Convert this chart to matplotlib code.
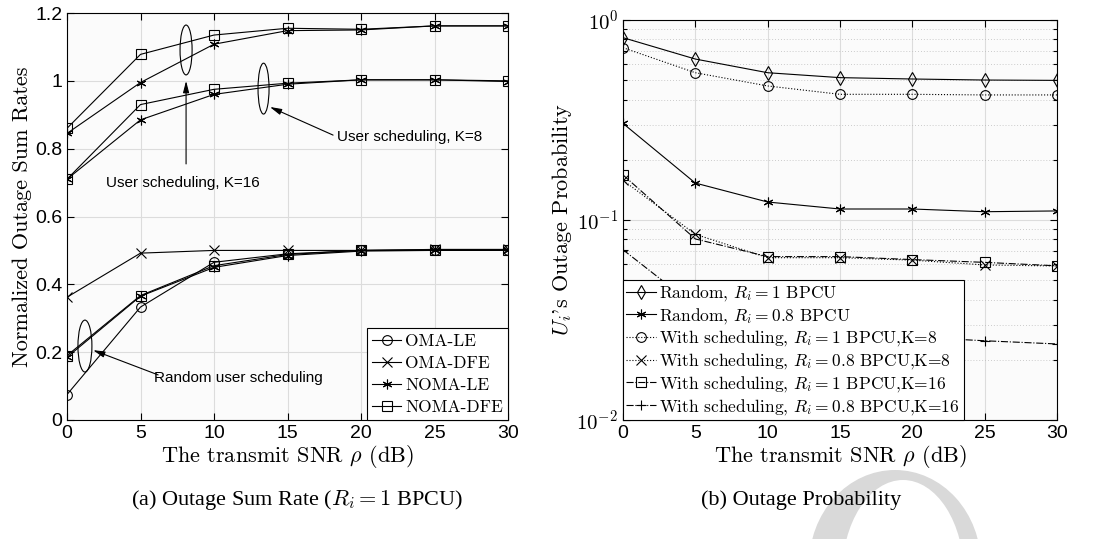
import matplotlib
matplotlib.use("Agg")
import matplotlib.pyplot as plt
from matplotlib.patches import Ellipse
from matplotlib.ticker import FuncFormatter, LogLocator, NullFormatter
import numpy as np

plt.rcParams['mathtext.fontset'] = 'cm'

# ---------------- data ----------------
snr = [0, 5, 10, 15, 20, 25, 30]

# (a) outage sum rate, random user scheduling
oma_le_rand = [0.075, 0.333, 0.465, 0.490, 0.500, 0.500, 0.500]
oma_dfe_rand = [0.362, 0.492, 0.500, 0.500, 0.500, 0.503, 0.503]
noma_le_rand = [0.185, 0.365, 0.450, 0.485, 0.498, 0.500, 0.500]
noma_dfe_rand = [0.190, 0.367, 0.455, 0.488, 0.500, 0.502, 0.502]
# user scheduling K=8
noma_le_k8 = [0.710, 0.885, 0.960, 0.990, 1.003, 1.003, 0.998]
noma_dfe_k8 = [0.710, 0.930, 0.975, 0.993, 1.003, 1.003, 1.000]
# user scheduling K=16
noma_le_k16 = [0.845, 0.995, 1.108, 1.148, 1.150, 1.162, 1.162]
noma_dfe_k16 = [0.860, 1.078, 1.135, 1.155, 1.152, 1.162, 1.162]

legend_a = ['OMA-LE', 'OMA-DFE', 'NOMA-LE', 'NOMA-DFE']

# (b) outage probability
rand_r1 = [0.816, 0.638, 0.545, 0.515, 0.507, 0.501, 0.499]
rand_r08 = [0.304, 0.153, 0.123, 0.1135, 0.1135, 0.110, 0.111]
sch_r1_k8 = [0.727, 0.545, 0.468, 0.425, 0.425, 0.422, 0.422]
sch_r08_k8 = [0.158, 0.0848, 0.0648, 0.0648, 0.0630, 0.0596, 0.0589]
sch_r1_k16 = [0.168, 0.0804, 0.0656, 0.0656, 0.0634, 0.0614, 0.0590]
sch_r08_k16 = [0.0710, 0.037, 0.030, 0.027, 0.026, 0.0249, 0.0240]

legend_b = [r'Random, $R_i = 1$ BPCU',
            r'Random, $R_i = 0.8$ BPCU',
            r'With scheduling, $R_i = 1$ BPCU,K=8',
            r'With scheduling, $R_i = 0.8$ BPCU,K=8',
            r'With scheduling, $R_i = 1$ BPCU,K=16',
            r'With scheduling, $R_i = 0.8$ BPCU,K=16']

# ---------------- figure ----------------
W, H = 1099, 539
fig = plt.figure(figsize=(W / 100, H / 100), dpi=100)

SERIF = 'cmr10'
SANS = 'Liberation Sans'
bg = '#fbfbfb'

# watermark ring (decorative, bottom right) -- display coords, origin bottom-left
outer = Ellipse((895, -26), 172, 190, transform=None, facecolor='#d9d9d9', edgecolor='none', zorder=0)
inner = Ellipse((903, -36), 122, 190, transform=None, facecolor='white', edgecolor='none', zorder=0)
fig.patches.extend([outer, inner])

axa = fig.add_axes([67 / W, 1 - 420 / H, 441 / W, 407 / H])
axb = fig.add_axes([623 / W, 1 - 420 / H, 434 / W, 400 / H])

mk = dict(markersize=7, markerfacecolor='none', markeredgecolor='k', markeredgewidth=0.8)
lw = 0.8

# ---- (a) ----
axa.set_facecolor(bg)
axa.plot(snr, oma_le_rand, '-', color='k', lw=lw, marker='o', label=legend_a[0], **mk)
axa.plot(snr, oma_dfe_rand, '-', color='k', lw=lw, marker='x', label=legend_a[1], **mk)
axa.plot(snr, noma_le_rand, '-', color='k', lw=lw, marker=(6, 2, 0), label=legend_a[2], **mk)
axa.plot(snr, noma_dfe_rand, '-', color='k', lw=lw, marker='s', label=legend_a[3], **mk)
for data, m in [(noma_le_k8, (6, 2, 0)), (noma_dfe_k8, 's'), (noma_le_k16, (6, 2, 0)), (noma_dfe_k16, 's')]:
    axa.plot(snr, data, '-', color='k', lw=lw, marker=m, **mk)

axa.set_xlim(0, 30)
axa.set_ylim(0, 1.2)
axa.set_xticks(snr)
axa.set_yticks([0, 0.2, 0.4, 0.6, 0.8, 1.0, 1.2])
axa.set_yticklabels(['0', '0.2', '0.4', '0.6', '0.8', '1', '1.2'])
axa.grid(True, color='#dcdcdc', lw=0.8)
axa.set_axisbelow(True)
axa.set_xlabel(r'The transmit SNR $\rho$ (dB)', family=SERIF, fontsize=16, labelpad=1)
axa.set_ylabel('Normalized Outage Sum Rates', family=SERIF, fontsize=16, labelpad=2)

# annotations
arw = dict(arrowstyle='-|>,head_length=0.7,head_width=0.18', color='k', lw=0.8, shrinkA=0, shrinkB=0)
axa.add_patch(Ellipse((8.1, 1.091), 0.82, 0.147, fill=False, lw=0.8, ec='k'))
axa.annotate('', xy=(8.1, 1.0), xytext=(8.1, 0.755), arrowprops=arw)
axa.text(7.9, 0.70, 'User scheduling, K=16', family=SANS, fontsize=11, ha='center', va='center')

axa.add_patch(Ellipse((13.37, 0.977), 0.75, 0.15, fill=False, lw=0.8, ec='k'))
axa.annotate('', xy=(13.8, 0.923), xytext=(18.1, 0.84), arrowprops=arw)
axa.text(18.37, 0.835, 'User scheduling, K=8', family=SANS, fontsize=11, ha='left', va='center')

axa.add_patch(Ellipse((1.22, 0.218), 0.95, 0.153, fill=False, lw=0.8, ec='k'))
axa.annotate('', xy=(1.77, 0.206), xytext=(6.2, 0.133), arrowprops=arw)
axa.text(5.9, 0.124, 'Random user scheduling', family=SANS, fontsize=11, ha='left', va='center')

leg = axa.legend(loc='lower right', borderaxespad=0, prop={'family': SERIF, 'size': 12.5},
                 fancybox=False, framealpha=1, edgecolor='k', handlelength=1.7,
                 handletextpad=0.2, labelspacing=0.38, borderpad=0.3)
leg.get_frame().set_linewidth(0.8)

# ---- (b) ----
axb.set_facecolor(bg)
axb.semilogy(snr, rand_r1, '-', color='k', lw=lw, marker='d', label=legend_b[0], **mk)
axb.semilogy(snr, rand_r08, '-', color='k', lw=lw, marker=(6, 2, 0), label=legend_b[1], **mk)
axb.semilogy(snr, sch_r1_k8, ':', color='k', lw=lw, marker='o', label=legend_b[2], **mk)
axb.semilogy(snr, sch_r08_k8, ':', color='k', lw=lw, marker='x', label=legend_b[3], **mk)
axb.semilogy(snr, sch_r1_k16, '-.', color='k', lw=lw, marker='s', label=legend_b[4], **mk)
axb.semilogy(snr, sch_r08_k16, '-.', color='k', lw=lw, marker='+', label=legend_b[5], **mk)
axb.set_xlim(0, 30)
axb.set_ylim(1e-2, 1)
axb.set_xticks(snr)
axb.yaxis.set_major_locator(LogLocator(base=10, numticks=5))
axb.yaxis.set_minor_locator(LogLocator(base=10, subs=np.arange(2, 10), numticks=20))
axb.yaxis.set_minor_formatter(NullFormatter())
axb.yaxis.set_major_formatter(FuncFormatter(lambda v, p: r'$\mathsf{10^{%d}}$' % int(round(np.log10(v)))))
axb.grid(True, which='major', color='#dcdcdc', lw=0.8)
axb.grid(True, which='minor', axis='y', color='#bbbbbb', lw=0.6, ls=(0, (1, 2.5)))
axb.set_axisbelow(True)
axb.set_xlabel(r'The transmit SNR $\rho$ (dB)', family=SERIF, fontsize=16, labelpad=1)
axb.set_ylabel(r"$U_i$'s Outage Probability", family=SERIF, fontsize=16, labelpad=2)
leg = axb.legend(loc='lower left', borderaxespad=0, prop={'family': SERIF, 'size': 12.5},
                 fancybox=False, framealpha=1, edgecolor='k', handlelength=1.7,
                 handletextpad=0.2, labelspacing=0.16, borderpad=0.2)
leg.get_frame().set_linewidth(0.8)

for ax in (axa, axb):
    ax.tick_params(which='both', direction='in', top=True, right=True, labelsize=14, width=0.8)
    ax.tick_params(which='major', length=5)
    ax.tick_params(which='minor', length=3)
    for lab in ax.get_xticklabels() + ax.get_yticklabels():
        lab.set_family(SANS)
    for s in ax.spines.values():
        s.set_linewidth(0.8)
axb.tick_params(axis='x', which='minor', bottom=False, top=False)
axb.tick_params(axis='y', which='major', labelsize=15)

# captions
fig.text(297 / W, 1 - 500 / H, r'(a) Outage Sum Rate ($R_i = 1$ BPCU)', family='Liberation Serif',
         fontsize=16, ha='center', va='center')
fig.text(801 / W, 1 - 500 / H, '(b) Outage Probability', family='Liberation Serif',
         fontsize=16, ha='center', va='center')

fig.savefig('out.png', dpi=100, facecolor='white')
